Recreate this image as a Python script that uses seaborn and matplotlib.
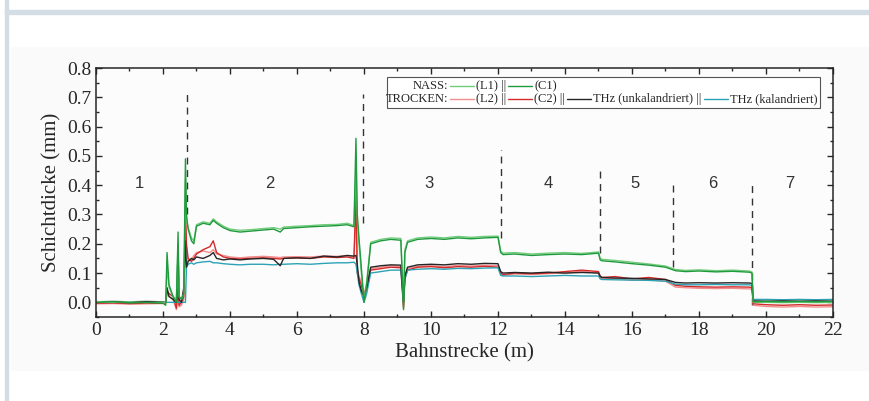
import matplotlib
matplotlib.use('Agg')
from matplotlib import pyplot as plt
from matplotlib.patches import Rectangle
from matplotlib.ticker import MultipleLocator, FormatStrFormatter
import numpy as np
import pandas as pd
import seaborn as sns

# Bahnstrecke (m), shared by all curves
strecke = [0, 0.5, 1.0, 1.5, 2.0, 2.08, 2.12, 2.18, 2.3, 2.4,
           2.45, 2.48, 2.55, 2.62, 2.67, 2.70, 2.75, 2.85, 2.92, 3.0,
           3.2, 3.4, 3.5, 3.6, 3.8, 4.0, 4.3, 4.6, 5.0, 5.3,
           5.5, 5.6, 6.0, 6.4, 6.8, 7.2, 7.5, 7.7, 7.76, 7.8,
           7.85, 7.92, 8.0, 8.08, 8.2, 8.5, 8.8, 9.1, 9.18, 9.22,
           9.3, 9.6, 10.0, 10.4, 10.8, 11.2, 11.6, 12.0, 12.08, 12.15,
           12.5, 13.0, 13.5, 14.0, 14.5, 15.0, 15.05, 15.1, 15.5, 16.0,
           16.5, 17.0, 17.3, 17.6, 18.0, 18.5, 19.0, 19.5, 19.58, 19.62,
           20.0, 20.5, 21.0, 21.5, 22.0]

# NASS
nass_l1 = [0.003, 0.0, 0.002, -0.001, 0.001, 0.0, 0.12, 0.05, 0.02, 0.01,
           0.2, 0.02, 0.01, 0.03, 0.42, 0.28, 0.255, 0.22, 0.21, 0.265,
           0.275, 0.27, 0.285, 0.275, 0.26, 0.25, 0.246, 0.248, 0.252, 0.255,
           0.25, 0.257, 0.26, 0.262, 0.265, 0.266, 0.27, 0.262, 0.45, 0.28,
           0.2, 0.1, 0.01, 0.07, 0.205, 0.215, 0.22, 0.218, 0.0, 0.18,
           0.21, 0.22, 0.223, 0.22, 0.225, 0.222, 0.225, 0.226, 0.175, 0.168,
           0.17, 0.165, 0.168, 0.17, 0.167, 0.172, 0.15, 0.147, 0.143, 0.137,
           0.131, 0.124, 0.112, 0.109, 0.111, 0.108, 0.11, 0.107, 0.104, 0.0,
           0.0, -0.001, 0.0, -0.001, 0.0]
nass_c1 = [0.0, 0.002, -0.002, 0.0, -0.003, -0.01, 0.17, 0.06, 0.02, 0.0,
           0.24, 0.02, 0.01, 0.03, 0.49, 0.30, 0.25, 0.21, 0.20, 0.26,
           0.27, 0.265, 0.28, 0.27, 0.255, 0.245, 0.24, 0.243, 0.247, 0.25,
           0.24, 0.252, 0.255, 0.258, 0.26, 0.262, 0.265, 0.258, 0.56, 0.30,
           0.22, 0.12, 0.0, 0.06, 0.20, 0.21, 0.215, 0.212, -0.025, 0.17,
           0.205, 0.215, 0.218, 0.215, 0.22, 0.217, 0.22, 0.222, 0.17, 0.163,
           0.165, 0.16, 0.163, 0.165, 0.163, 0.168, 0.145, 0.142, 0.138, 0.132,
           0.127, 0.12, 0.108, 0.105, 0.107, 0.104, 0.106, 0.103, 0.1, 0.002,
           0.003, 0.002, 0.003, 0.002, 0.003]

# TROCKEN
trocken_l2 = [-0.005, -0.004, -0.006, -0.005, -0.004, -0.002, 0.03, 0.02, 0.01, -0.025,
              0.04, -0.015, -0.01, 0.01, 0.25, 0.18, 0.14, 0.145, 0.16, 0.17,
              0.175, 0.17, 0.18, 0.165, 0.16, 0.155, 0.152, 0.155, 0.157, 0.155,
              0.153, 0.155, 0.156, 0.155, 0.158, 0.157, 0.16, 0.155, 0.3, 0.11,
              0.09, 0.07, 0.03, 0.06, 0.115, 0.12, 0.125, 0.122, -0.01, 0.09,
              0.115, 0.123, 0.125, 0.122, 0.126, 0.124, 0.127, 0.125, 0.098, 0.092,
              0.097, 0.095, 0.098, 0.1, 0.106, 0.1, 0.085, 0.08, 0.082, 0.075,
              0.078, 0.072, 0.052, 0.05, 0.048, 0.047, 0.048, 0.046, 0.045, -0.01,
              -0.014, -0.016, -0.014, -0.016, -0.015]
trocken_c2 = [-0.003, -0.002, -0.004, -0.003, -0.003, 0.0, 0.04, 0.03, 0.02, -0.02,
              0.05, -0.01, 0.0, 0.02, 0.33, 0.20, 0.15, 0.14, 0.15, 0.165,
              0.18, 0.19, 0.21, 0.17, 0.155, 0.15, 0.148, 0.15, 0.152, 0.15,
              0.148, 0.15, 0.152, 0.15, 0.155, 0.153, 0.155, 0.15, 0.37, 0.10,
              0.08, 0.06, 0.02, 0.05, 0.11, 0.115, 0.12, 0.118, -0.02, 0.08,
              0.11, 0.12, 0.122, 0.118, 0.122, 0.12, 0.123, 0.12, 0.10, 0.095,
              0.1, 0.098, 0.1, 0.105, 0.11, 0.105, 0.09, 0.085, 0.088, 0.08,
              0.085, 0.078, 0.058, 0.055, 0.053, 0.052, 0.053, 0.052, 0.05, -0.005,
              -0.008, -0.01, -0.008, -0.01, -0.009]
thz_unkal = [0.002, 0.003, 0.002, 0.003, 0.002, 0.0, 0.05, 0.02, 0.01, 0.0,
             0.17, 0.01, 0.0, 0.05, 0.21, 0.12, 0.14, 0.15, 0.145, 0.155,
             0.15, 0.16, 0.17, 0.15, 0.145, 0.148, 0.145, 0.148, 0.15, 0.147,
             0.125, 0.15, 0.152, 0.15, 0.158, 0.155, 0.16, 0.158, 0.16, 0.13,
             0.07, 0.04, 0.02, 0.05, 0.12, 0.125, 0.128, 0.127, 0.0, 0.09,
             0.12, 0.128, 0.13, 0.128, 0.132, 0.13, 0.133, 0.132, 0.105, 0.1,
             0.102, 0.1, 0.103, 0.1, 0.102, 0.1, 0.088, 0.085, 0.083, 0.082,
             0.08, 0.078, 0.068, 0.066, 0.067, 0.066, 0.067, 0.066, 0.065, 0.005,
             0.004, 0.005, 0.004, 0.005, 0.004]
thz_kal = [0.0, 0.0, 0.0, 0.0, 0.0, 0.0, 0.0, 0.0, 0.0, 0.0,
           0.0, 0.0, 0.0, 0.0, 0.0, 0.12, 0.13, 0.135, 0.13, 0.135,
           0.138, 0.14, 0.135, 0.135, 0.132, 0.13, 0.128, 0.13, 0.13, 0.128,
           0.13, 0.13, 0.132, 0.13, 0.133, 0.135, 0.135, 0.137, 0.13, 0.10,
           0.06, 0.03, 0.0, 0.03, 0.1, 0.105, 0.11, 0.11, 0.0, 0.08,
           0.11, 0.113, 0.115, 0.113, 0.116, 0.115, 0.117, 0.118, 0.092, 0.09,
           0.09, 0.088, 0.09, 0.092, 0.09, 0.09, 0.08, 0.078, 0.077, 0.076,
           0.075, 0.072, 0.062, 0.06, 0.06, 0.061, 0.06, 0.06, 0.058, 0.01,
           0.01, 0.009, 0.01, 0.009, 0.01]

# Abschnitte 1-7 and the dashed boundaries
abschnitt_labels = ['1', '2', '3', '4', '5', '6', '7']
abschnitt_x = [1.3, 5.2, 9.95, 13.5, 16.1, 18.4, 20.7]
abschnitt_y = 0.405
grenze_x = [2.72, 7.97, 12.08, 15.05, 17.23, 19.59]
grenze_top = [0.71, 0.71, 0.52, 0.466, 0.415, 0.40]
grenze_bottom = [0.3, 0.27, 0.22, 0.17, 0.12, -0.01]

series = {
    'L2': trocken_l2,
    'C2': trocken_c2,
    'THz kal': thz_kal,
    'THz unkal': thz_unkal,
    'L1': nass_l1,
    'C1': nass_c1,
}
colors = {
    'L1': '#72cc7c',
    'C1': '#1f9a3c',
    'L2': '#f28d8d',
    'C2': '#d42a2a',
    'THz unkal': '#262626',
    'THz kal': '#2ca3b5',
}

df = pd.concat([pd.DataFrame({'Bahnstrecke': strecke, 'Schichtdicke': v, 'Serie': k})
                for k, v in series.items()], ignore_index=True)

sns.set_style('ticks')
plt.rcParams['font.family'] = ['Liberation Serif', 'DejaVu Serif']

fig = plt.figure(figsize=(8.7, 4.01), dpi=100)
fig.patch.set_facecolor('white')
# outer frame and grey panel (behind the axes)
fig.patches.append(Rectangle((5 / 870, 0), 3 / 870, 1, transform=fig.transFigure,
                             color='#d3dde3', zorder=-10))
fig.patches.append(Rectangle((5 / 870, 1 - 14 / 401), 1, 4 / 401, transform=fig.transFigure,
                             color='#d3dde3', zorder=-10))
fig.patches.append(Rectangle((11 / 870, 31 / 401), 1, 323 / 401, transform=fig.transFigure,
                             color='#fafafa', zorder=-10))

ax = fig.add_axes([96 / 870, 84 / 401, 737 / 870, 249 / 401])
ax.set_zorder(5)
ax.set_facecolor('#fcfcfc')

# dashed section boundaries
ax.vlines(grenze_x, grenze_bottom, grenze_top, colors='#333333', linestyles=(0, (5, 4)),
          linewidth=1.0, zorder=1)

sns.lineplot(data=df, x='Bahnstrecke', y='Schichtdicke', hue='Serie', palette=colors,
             estimator=None, sort=False, linewidth=1.0, legend=False, ax=ax, zorder=2)

for lab, xx in zip(abschnitt_labels, abschnitt_x):
    ax.text(xx, abschnitt_y, lab, ha='center', va='center', fontsize=12,
            family=['Liberation Sans', 'DejaVu Sans'], color='#333333')

ax.set_xlim(0, 22)
ax.set_ylim(-0.05, 0.8)
ax.xaxis.set_major_locator(MultipleLocator(2))
ax.xaxis.set_minor_locator(MultipleLocator(1))
ax.yaxis.set_major_locator(MultipleLocator(0.1))
ax.yaxis.set_minor_locator(MultipleLocator(0.05))
ax.yaxis.set_major_formatter(FormatStrFormatter('%.1f'))
ax.tick_params(which='both', direction='in', top=True, right=True, labelsize=14, width=1)
ax.tick_params(which='major', length=4)
ax.tick_params(which='minor', length=2.5)
for s in ax.spines.values():
    s.set_linewidth(1.1)
ax.set_xlabel('Bahnstrecke (m)', fontsize=15, labelpad=3)
ax.set_ylabel('Schichtdicke (mm)', fontsize=15, labelpad=4)

# hand-made legend box, laid out item by item
ax.add_patch(Rectangle((0.395, 0.839), 0.587, 0.125, transform=ax.transAxes,
                       facecolor='white', edgecolor='#555555', linewidth=0.8, zorder=3))
renderer = fig.canvas.get_renderer()
ax_w = 737.0
fs = 9.0
line_px = 24
gap_px = 2
legend_rows = [
    (0.928, 'NASS:', [('L1', '(L1) ||'), ('C1', '(C1)')]),
    (0.876, 'TROCKEN:', [('L2', '(L2) ||'), ('C2', '(C2) ||'),
                         ('THz unkal', 'THz (unkalandriert) ||'),
                         ('THz kal', 'THz (kalandriert)')]),
]
for yy, head, items in legend_rows:
    xpos = (448 - 96) / ax_w
    ax.text(xpos, yy, head, transform=ax.transAxes, ha='right', va='center', fontsize=fs, zorder=4)
    for key, label in items:
        x0 = xpos + gap_px / ax_w
        x1 = x0 + line_px / ax_w
        ax.plot([x0, x1], [yy, yy], color=colors[key], linewidth=1.0, transform=ax.transAxes, zorder=4)
        t = ax.text(x1 + gap_px / ax_w, yy, label, transform=ax.transAxes, ha='left',
                    va='center', fontsize=fs, zorder=4)
        xpos = x1 + gap_px / ax_w + t.get_window_extent(renderer).width / ax_w

plt.savefig('out.png', dpi=100)
plt.close()
